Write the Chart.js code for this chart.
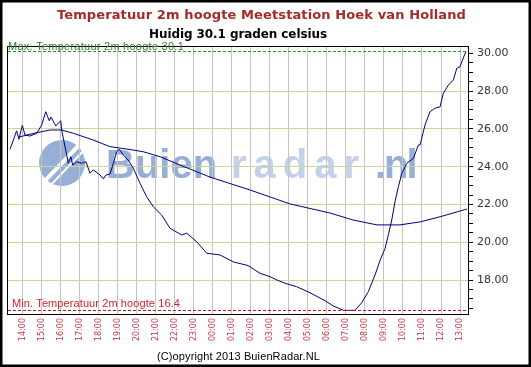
<!DOCTYPE html>
<html>
<head>
<meta charset="utf-8">
<script src="https://cdn.jsdelivr.net/npm/chart.js@4.4.0/dist/chart.umd.min.js"></script>
<style>
    html, body { margin: 0; padding: 0; background: #fff; }
    canvas { display: block; }
</style>
</head>
<body>
<canvas id="tempChart" width="531" height="367"></canvas>
<script>
// tijd in uren vanaf 14:00 (gisteren), temperatuur in graden celsius
const startHour = 14;

const tempHours = [-0.67, -0.49, -0.32, -0.2, -0.02, 0.12, 0.38, 0.74, 1.0, 1.21, 1.4, 1.49, 1.74, 2.0, 2.05,
    2.4, 2.53, 2.63, 2.84, 3.1, 3.33, 3.54, 3.71, 4.07, 4.24, 4.38, 4.59, 4.77, 4.94, 5.08, 5.29, 5.55, 5.82,
    6.17, 6.52, 6.87, 7.31, 7.75, 8.36, 8.63, 9.15, 9.68, 10.38, 11.08, 11.85, 12.48, 13.01, 13.36, 13.8,
    14.41, 15.11, 15.9, 16.34, 16.87, 17.48, 17.83, 18.18, 18.53, 18.8, 19.06, 19.23, 19.41, 19.58, 19.76,
    19.94, 20.2, 20.55, 20.81, 20.9, 21.16, 21.42, 21.68, 21.95, 22.12, 22.39, 22.65, 22.83, 23.0, 23.17, 23.31];
const tempValues = [24.92, 25.41, 25.9, 25.45, 26.19, 25.68, 25.62, 25.77, 26.21, 26.91, 26.43, 26.63, 26.15, 26.43, 25.94,
    24.18, 24.53, 24.09, 24.26, 24.18, 24.26, 23.65, 23.83, 23.56, 23.35, 23.56, 23.61, 24.18, 24.79, 24.92, 24.62, 24.35, 23.92,
    23.12, 22.41, 21.88, 21.44, 20.74, 20.39, 20.48, 20.03, 19.42, 19.33, 18.96, 18.77, 18.36, 18.18, 18.01, 17.83,
    17.65, 17.33, 16.91, 16.63, 16.4, 16.4, 16.8, 17.39, 18.27, 19.06, 19.68, 20.39, 21.18, 22.15, 22.94,
    23.65, 24.18, 24.44, 25.15, 25.15, 26.21, 26.91, 27.09, 27.17, 27.88, 28.32, 28.59, 29.21, 29.29, 29.74, 30.1];

const avgHours = [-0.2, 0.65, 1.44, 2.05, 2.66, 3.71, 4.59, 5.82, 6.34, 7.22, 8.27, 9.85, 11.95, 14.06, 16.16,
    17.37, 18.63, 19.84, 20.9, 21.95, 23.37];
const avgValues = [25.57, 25.78, 25.94, 25.94, 25.77, 25.41, 25.06, 24.88, 24.79, 24.53, 24.09, 23.45, 22.77, 22.03, 21.55,
    21.18, 20.92, 20.92, 21.08, 21.35, 21.76];

const maxTemp = 30.1;
const minTemp = 16.4;
const currentTemp = 30.1;

// tekst met letterafstand zodat hij een bepaalde breedte vult
function fitText(ctx, text, x, y, width) {
    ctx.letterSpacing = '0px';
    const w = ctx.measureText(text).width;
    const sp = (width - w) / text.length;
    ctx.letterSpacing = sp + 'px';
    ctx.fillText(text, x, y);
    ctx.letterSpacing = '0px';
}

const decor = {
    id: 'decor',
    beforeDraw(chart) {
        const ctx = chart.ctx;
        ctx.save();
        ctx.fillStyle = '#fff';
        ctx.fillRect(0, 0, chart.width, chart.height);

        // watermerk logo
        const dark = 'rgba(125,155,205,0.8)';
        const light = 'rgba(180,198,230,0.8)';
        ctx.beginPath();
        ctx.arc(62, 163, 23, 0, Math.PI * 2);
        ctx.fillStyle = dark;
        ctx.fill();
        ctx.strokeStyle = '#fff';
        ctx.lineWidth = 4;
        ctx.beginPath();
        ctx.moveTo(40, 186); ctx.lineTo(84, 140);
        ctx.stroke();
        ctx.lineWidth = 2;
        ctx.beginPath();
        ctx.moveTo(47, 189); ctx.lineTo(88, 146);
        ctx.stroke();

        // watermerk tekst
        ctx.textBaseline = 'alphabetic';
        ctx.textAlign = 'left';
        ctx.font = 'bold 40px "Liberation Sans", Arial, sans-serif';
        ctx.fillStyle = dark;
        ctx.fillText('Buien', 106, 178);
        ctx.fillStyle = light;
        ctx.letterSpacing = '7px';
        ctx.fillText('radar', 231, 178);
        ctx.fillStyle = dark;
        ctx.letterSpacing = '-2px';
        ctx.fillText('.nl', 375, 178);
        ctx.letterSpacing = '0px';
        ctx.restore();
    },
    afterDraw(chart) {
        const ctx = chart.ctx;
        const a = chart.chartArea;
        const y = chart.scales.y;
        ctx.save();

        // kader plotgebied
        ctx.strokeStyle = '#000';
        ctx.lineWidth = 1;
        ctx.strokeRect(a.left - 0.5, a.top + 0.5, a.right - a.left + 1, a.bottom - a.top);

        // max / min lijnen
        ctx.setLineDash([3, 2]);
        const yMax = Math.round(y.getPixelForValue(maxTemp)) + 0.5;
        const yMin = Math.round(y.getPixelForValue(minTemp)) + 0.5;
        ctx.strokeStyle = '#2a9a2a';
        ctx.beginPath(); ctx.moveTo(a.left, yMax); ctx.lineTo(a.right, yMax); ctx.stroke();
        ctx.strokeStyle = '#cc1122';
        ctx.beginPath(); ctx.moveTo(a.left, yMin); ctx.lineTo(a.right, yMin); ctx.stroke();
        ctx.setLineDash([]);

        ctx.textAlign = 'left';
        ctx.textBaseline = 'alphabetic';
        ctx.font = '11px "Liberation Sans", Arial, sans-serif';
        ctx.fillStyle = '#3a7a3a';
        fitText(ctx, 'Max. Temperatuur 2m hoogte ' + maxTemp.toFixed(1), 8, yMax - 2, 176);
        ctx.fillStyle = '#d42030';
        fitText(ctx, 'Min. Temperatuur 2m hoogte ' + minTemp.toFixed(1), 12, yMin - 4, 168);

        // titels
        ctx.font = 'bold 13px "DejaVu Sans", Verdana, sans-serif';
        ctx.fillStyle = '#a52a2a';
        fitText(ctx, 'Temperatuur 2m hoogte Meetstation Hoek van Holland', 57, 19, 409);
        ctx.font = 'bold 12px "DejaVu Sans", Verdana, sans-serif';
        ctx.fillStyle = '#000';
        fitText(ctx, 'Huidig ' + currentTemp.toFixed(1) + ' graden celsius', 149, 38, 178);

        // copyright
        ctx.font = '11px "Liberation Sans", Arial, sans-serif';
        ctx.fillStyle = '#000';
        fitText(ctx, '(C)opyright 2013 BuienRadar.NL', 157, 360, 163);

        // buitenkader
        ctx.strokeStyle = '#000';
        ctx.lineWidth = 3;
        ctx.strokeRect(1, 1, chart.width - 2, chart.height - 2);
        ctx.restore();
    }
};

const ctx = document.getElementById('tempChart').getContext('2d');

const tempChart = new Chart(ctx, {
    type: 'line',
    data: {
        datasets: [{
            label: 'Temperatuur',
            data: tempHours.map((h, i) => ({ x: h, y: tempValues[i] })),
            borderColor: '#000080',
            borderWidth: 1,
            pointRadius: 0,
            tension: 0,
            fill: false
        }, {
            label: 'Gemiddelde',
            data: avgHours.map((h, i) => ({ x: h, y: avgValues[i] })),
            borderColor: '#000080',
            borderWidth: 1,
            pointRadius: 0,
            tension: 0,
            fill: false
        }]
    },
    options: {
        responsive: false,
        animation: false,
        layout: { padding: { left: 8, top: 46, right: 0, bottom: 0 } },
        plugins: {
            legend: { display: false },
            tooltip: { enabled: false }
        },
        scales: {
            x: {
                type: 'linear',
                min: -0.773,
                max: 23.42,
                afterFit: function(scale) { scale.height = 53; },
                border: { color: '#000' },
                grid: { color: '#c4c4c4', drawTicks: false },
                ticks: {
                    stepSize: 1,
                    includeBounds: false,
                    autoSkip: false,
                    maxTicksLimit: 100,
                    minRotation: 90,
                    maxRotation: 90,
                    padding: 4,
                    color: '#cc3344',
                    font: { family: '"DejaVu Sans", Verdana, sans-serif', size: 8 },
                    callback: function(value) {
                        const h = (startHour + value) % 24;
                        return String(h).padStart(2, '0') + ':00';
                    }
                }
            },
            y: {
                position: 'right',
                min: 16.206,
                max: 30.386,
                afterFit: function(scale) { scale.width = 63; },
                border: { color: '#000' },
                grid: {
                    tickColor: '#000',
                    tickLength: 5,
                    color: function(c) {
                        const v = c.tick ? c.tick.value : null;
                        if (v !== null && Math.abs(v % 2) < 1e-6 && v < 29.9) return '#c8d890';
                        return 'rgba(0,0,0,0)';
                    }
                },
                ticks: {
                    stepSize: 0.5,
                    includeBounds: false,
                    autoSkip: false,
                    maxTicksLimit: 100,
                    padding: 4,
                    color: '#333',
                    font: { family: '"DejaVu Sans", Verdana, sans-serif', size: 11 },
                    callback: function(value) {
                        return Math.abs(value % 2) < 1e-6 ? value.toFixed(2) : '';
                    }
                }
            }
        }
    },
    plugins: [decor]
});
</script>
</body>
</html>
